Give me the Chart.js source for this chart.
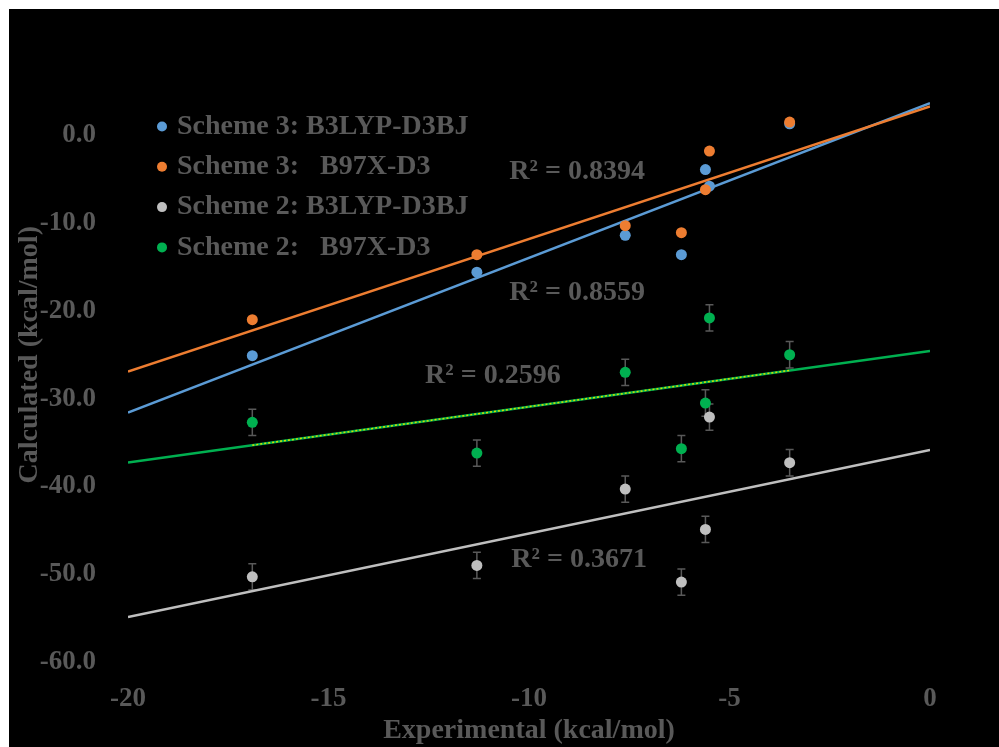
<!DOCTYPE html>
<html lang="en">
<head>
  <meta charset="UTF-8">
  <title>Calculated vs Experimental</title>
  <script src="https://cdn.jsdelivr.net/npm/chart.js"></script>
  <style>
    html, body { margin: 0; padding: 0; background: #fff; }
    .chart-box { position: absolute; left: 9px; top: 9px; width: 990px; height: 738px; background: #000; }
  </style>
</head>
<body>
  <div class="chart-box"><canvas id="fitChart"></canvas></div>

  <script>
    // values
    const experimental = [-16.9, -11.3, -7.6, -6.2, -5.6, -5.5, -3.5];
    const s3B3lyp = [-25.1, -15.6, -11.4, -13.6, -3.9, -5.8, 1.3];
    const s3B97x = [-21.0, -13.6, -10.3, -11.1, -6.2, -1.8, 1.5];
    const s2B3lyp = [-50.3, -49.0, -40.3, -50.9, -44.9, -32.1, -37.3];
    const s2B97x = [-32.7, -36.2, -27.0, -35.7, -30.5, -20.8, -25.0];
    const s2B3lypErr = [1.5, 1.5, 1.5, 1.5, 1.5, 1.5, 1.5];
    const s2B97xErr = [1.5, 1.5, 1.5, 1.5, 1.5, 1.5, 1.5];

    const seriesNames = ["Scheme 3: B3LYP-D3BJ", "Scheme 3:   B97X-D3", "Scheme 2: B3LYP-D3BJ", "Scheme 2:   B97X-D3"];
    const seriesColors = ["#5B9BD5", "#ED7D31", "#BFBFBF", "#00B050"];

    const r2Texts = ["R\u00B2 = 0.8394", "R\u00B2 = 0.8559", "R\u00B2 = 0.2596", "R\u00B2 = 0.3671"];
    const r2AnchorX = [-8.8, -8.8, -10.9, -8.75];
    const r2AnchorY = [-4.1, -17.9, -27.4, -48.3];

    const xTrendRange = [-20, 0];

    const textColor = "#595959";
    const serif = "'Liberation Serif', 'Times New Roman', serif";

    // least squares trend line, like Excel's linear trendline
    function fit(xs, ys) {
      const n = xs.length;
      const mx = xs.reduce((a, b) => a + b, 0) / n;
      const my = ys.reduce((a, b) => a + b, 0) / n;
      let sxy = 0, sxx = 0;
      for (let i = 0; i < n; i++) {
        sxy += (xs[i] - mx) * (ys[i] - my);
        sxx += (xs[i] - mx) * (xs[i] - mx);
      }
      const slope = sxy / sxx;
      return (x) => my + slope * (x - mx);
    }

    function points(ys) {
      return experimental.map((x, i) => ({ x: x, y: ys[i] }));
    }

    function trend(ys, from, to) {
      const f = fit(experimental, ys);
      return [{ x: from, y: f(from) }, { x: to, y: f(to) }];
    }

    const allSeries = [s3B3lyp, s3B97x, s2B3lyp, s2B97x];

    function scatterSet(idx) {
      return {
        label: seriesNames[idx],
        data: points(allSeries[idx]),
        showLine: false,
        pointRadius: 5.5,
        pointBorderWidth: 0,
        pointBackgroundColor: seriesColors[idx],
        borderColor: seriesColors[idx],
      };
    }

    function trendSet(idx) {
      return {
        label: seriesNames[idx] + " trend",
        data: trend(allSeries[idx], xTrendRange[0], xTrendRange[1]),
        showLine: true,
        pointRadius: 0,
        borderWidth: 2.5,
        borderColor: seriesColors[idx],
      };
    }

    // first dataset is drawn on top
    const datasets = [
      scatterSet(1), scatterSet(0), scatterSet(2), scatterSet(3),
      {
        label: "green overlay",
        data: trend(s2B97x, Math.min(...experimental), Math.max(...experimental)),
        showLine: true,
        pointRadius: 0,
        borderWidth: 1.5,
        borderDash: [2, 2],
        borderColor: "#D2E000",
      },
      trendSet(1), trendSet(0), trendSet(2), trendSet(3),
    ];

    const errorSeries = [
      { values: s2B3lyp, err: s2B3lypErr },
      { values: s2B97x, err: s2B97xErr },
    ];

    const overlayPlugin = {
      id: "overlay",
      beforeDatasetsDraw(chart) {
        const { ctx, scales: { x, y } } = chart;
        ctx.save();
        ctx.strokeStyle = textColor;
        ctx.lineWidth = 1.5;
        errorSeries.forEach((s) => {
          s.values.forEach((v, i) => {
            const px = x.getPixelForValue(experimental[i]);
            const top = y.getPixelForValue(v + s.err[i]);
            const bot = y.getPixelForValue(v - s.err[i]);
            ctx.beginPath();
            ctx.moveTo(px, top); ctx.lineTo(px, bot);
            ctx.moveTo(px - 4, top); ctx.lineTo(px + 4, top);
            ctx.moveTo(px - 4, bot); ctx.lineTo(px + 4, bot);
            ctx.stroke();
          });
        });
        ctx.restore();
      },
      afterDraw(chart) {
        const { ctx, chartArea, scales: { x, y } } = chart;
        ctx.save();
        ctx.font = "bold 28px " + serif;
        ctx.textBaseline = "middle";
        // legend inside the plot
        seriesNames.forEach((name, i) => {
          const rowY = chartArea.top + 79 + i * 40.3;
          ctx.fillStyle = seriesColors[i];
          ctx.beginPath();
          ctx.arc(chartArea.left + 34, rowY, 5, 0, Math.PI * 2);
          ctx.fill();
          ctx.fillStyle = textColor;
          ctx.textAlign = "left";
          ctx.fillText(name, chartArea.left + 49, rowY);
        });
        // R squared labels
        ctx.textAlign = "center";
        ctx.fillStyle = textColor;
        r2Texts.forEach((t, i) => {
          ctx.fillText(t, x.getPixelForValue(r2AnchorX[i]), y.getPixelForValue(r2AnchorY[i]));
        });
        ctx.restore();
      },
    };

    new Chart(document.getElementById("fitChart"), {
      type: "scatter",
      data: { datasets: datasets },
      options: {
        responsive: true,
        maintainAspectRatio: false,
        animation: false,
        events: [],
        layout: { padding: { top: 38.5, right: 69, left: 0, bottom: 0 } },
        plugins: {
          legend: { display: false },
          tooltip: { enabled: false },
        },
        scales: {
          x: {
            type: "linear",
            min: -20,
            max: 0,
            afterFit: (scale) => {
              scale.height = 85;
              scale.paddingLeft = 0;
              scale.paddingRight = 0;
            },
            grid: { display: false, drawTicks: false },
            border: { display: false },
            ticks: {
              stepSize: 5,
              autoSkip: false,
              maxRotation: 0,
              padding: 21,
              color: textColor,
              font: { family: serif, size: 27, weight: "bold", lineHeight: 1.2 },
            },
            title: {
              display: true,
              text: "Experimental (kcal/mol)",
              color: textColor,
              font: { family: serif, size: 28, weight: "bold", lineHeight: 1 },
              padding: { top: 0, bottom: 2 },
            },
          },
          y: {
            type: "linear",
            min: -60,
            max: 10,
            afterFit: (scale) => {
              scale.width = 119;
              scale.paddingTop = 0;
              scale.paddingBottom = 0;
            },
            grid: { display: false, drawTicks: false },
            border: { display: false },
            ticks: {
              stepSize: 10,
              autoSkip: false,
              padding: 32,
              color: textColor,
              font: { family: serif, size: 27, weight: "bold" },
              callback: (value) => (value > 0 ? "" : Number(value).toFixed(1)),
            },
            title: {
              display: true,
              text: "Calculated (kcal/mol)",
              color: textColor,
              font: { family: serif, size: 28, weight: "bold", lineHeight: 1 },
              padding: { top: 7, bottom: 0 },
            },
          },
        },
      },
      plugins: [overlayPlugin],
    });
  </script>
</body>
</html>
